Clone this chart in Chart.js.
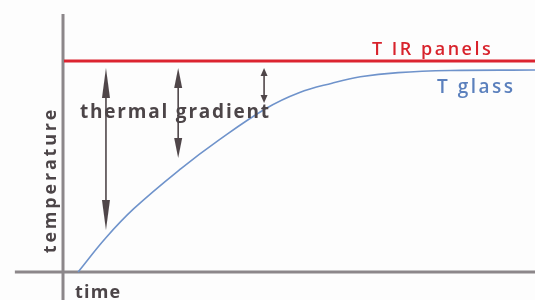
<!DOCTYPE html>
<html>
<head>
<meta charset="utf-8">
<script src="https://cdn.jsdelivr.net/npm/chart.js@4"></script>
<style>
	html, body { margin: 0; padding: 0; background: #fdfdfd; }
	#box { width: 535px; height: 300px; }
</style>
</head>
<body>
<div id="box"><canvas id="heatChart"></canvas></div>
<script>
// time and temperature in arbitrary units (panel temperature = 100)
var glassTime = [3.2, 9, 15, 25, 33, 43, 50, 57, 63, 71, 82, 100];
var glassTemp = [0, 16, 30, 49, 62.5, 77.5, 85, 89.5, 92.5, 94.5, 95.5, 95.7];
var panelTime = [0.2, 100];
var panelTemp = [100, 100];

// thermal gradient arrows: time, top end, bottom end
var gradientTime = [9.1, 24.4, 42.6];
var gradientTop = [96.7, 96.7, 96.7];
var gradientBottom = [19.9, 54, 80.1];

var labels = {
	panel: 'T IR panels',
	glass: 'T glass',
	gradient: 'thermal gradient',
	xTitle: 'time',
	yTitle: 'temperature'
};

var axisGrey = '#8c878a';
var arrowColor = '#4f4649';
var textGrey = '#4c4548';

function toPoints(xs, ys){
	let pts = [];
	for(let i in xs){
		pts.push({x: xs[i], y: ys[i]});
	}
	return pts;
}

// arrow heads are long and thin, sizes in px: [length, half width]
var headSize = [[30, 4], [20, 4], [8, 3.5]];

const arrowPlugin = {
	id: 'arrows',
	afterDatasetsDraw(chart){
		const ctx = chart.ctx;
		const xs = chart.scales.x;
		const ys = chart.scales.y;
		ctx.save();
		ctx.strokeStyle = arrowColor;
		ctx.fillStyle = arrowColor;
		ctx.lineWidth = 1.6;
		for(let i in gradientTime){
			let px = xs.getPixelForValue(gradientTime[i]);
			let top = ys.getPixelForValue(gradientTop[i]);
			let bot = ys.getPixelForValue(gradientBottom[i]);
			let len = headSize[i][0];
			let hw = headSize[i][1];
			ctx.beginPath();
			ctx.moveTo(px, top + len * 0.5);
			ctx.lineTo(px, bot - len * 0.5);
			ctx.stroke();
			// top head
			ctx.beginPath();
			ctx.moveTo(px, top);
			ctx.lineTo(px + hw, top + len);
			ctx.lineTo(px - hw, top + len);
			ctx.closePath();
			ctx.fill();
			// bottom head
			ctx.beginPath();
			ctx.moveTo(px, bot);
			ctx.lineTo(px + hw, bot - len);
			ctx.lineTo(px - hw, bot - len);
			ctx.closePath();
			ctx.fill();
		}
		ctx.restore();
	}
};

const textPlugin = {
	id: 'texts',
	afterDraw(chart){
		const ctx = chart.ctx;
		ctx.save();
		ctx.textBaseline = 'alphabetic';
		ctx.textAlign = 'left';

		ctx.font = '600 18px "Open Sans"';
		ctx.letterSpacing = '2.5px';
		ctx.fillStyle = '#d8232c';
		ctx.fillText(labels.panel, 372, 55);

		ctx.font = '600 19px "Open Sans"';
		ctx.letterSpacing = '2.5px';
		ctx.fillStyle = '#5b80bd';
		ctx.fillText(labels.glass, 437, 93);

		ctx.font = 'bold 19px "Open Sans"';
		ctx.fillStyle = textGrey;
		ctx.letterSpacing = '1.8px';
		ctx.fillText(labels.gradient, 80, 118);

		ctx.font = 'bold 18px "Open Sans"';
		ctx.letterSpacing = '1.2px';
		ctx.fillText(labels.xTitle, 75, 298);

		ctx.letterSpacing = '2.8px';
		ctx.translate(56, 180);
		ctx.rotate(-Math.PI / 2);
		ctx.textAlign = 'center';
		ctx.fillText(labels.yTitle, 0, 0);
		ctx.restore();
	}
};

const config = {
	type: 'line',
	data: {
		datasets: [
			{
				label: labels.panel,
				data: toPoints(panelTime, panelTemp),
				borderColor: '#dc2430',
				borderWidth: 3,
				pointRadius: 0,
				order: 1
			},
			{
				label: labels.glass,
				data: toPoints(glassTime, glassTemp),
				borderColor: '#6f93cb',
				borderWidth: 1.6,
				tension: 0.4,
				pointRadius: 0,
				order: 2
			},
			{
				label: 'x axis',
				data: [{x: -10.2, y: 0}, {x: 100, y: 0}],
				borderColor: axisGrey,
				borderWidth: 3,
				pointRadius: 0,
				order: 3
			},
			{
				label: 'y axis',
				data: [{x: 0, y: -14}, {x: 0, y: 122.3}],
				borderColor: axisGrey,
				borderWidth: 3,
				pointRadius: 0,
				order: 3
			}
		]
	},
	options: {
		responsive: true,
		maintainAspectRatio: false,
		animation: false,
		layout: { padding: 0 },
		plugins: {
			legend: { display: false },
			tooltip: { enabled: false }
		},
		scales: {
			x: {
				type: 'linear',
				display: false,
				min: -13.35,
				max: 100
			},
			y: {
				type: 'linear',
				display: false,
				min: -13.27,
				max: 128.91
			}
		}
	},
	plugins: [arrowPlugin, textPlugin]
};

var heatChart = new Chart(document.getElementById('heatChart'), config);
</script>
</body>
</html>
